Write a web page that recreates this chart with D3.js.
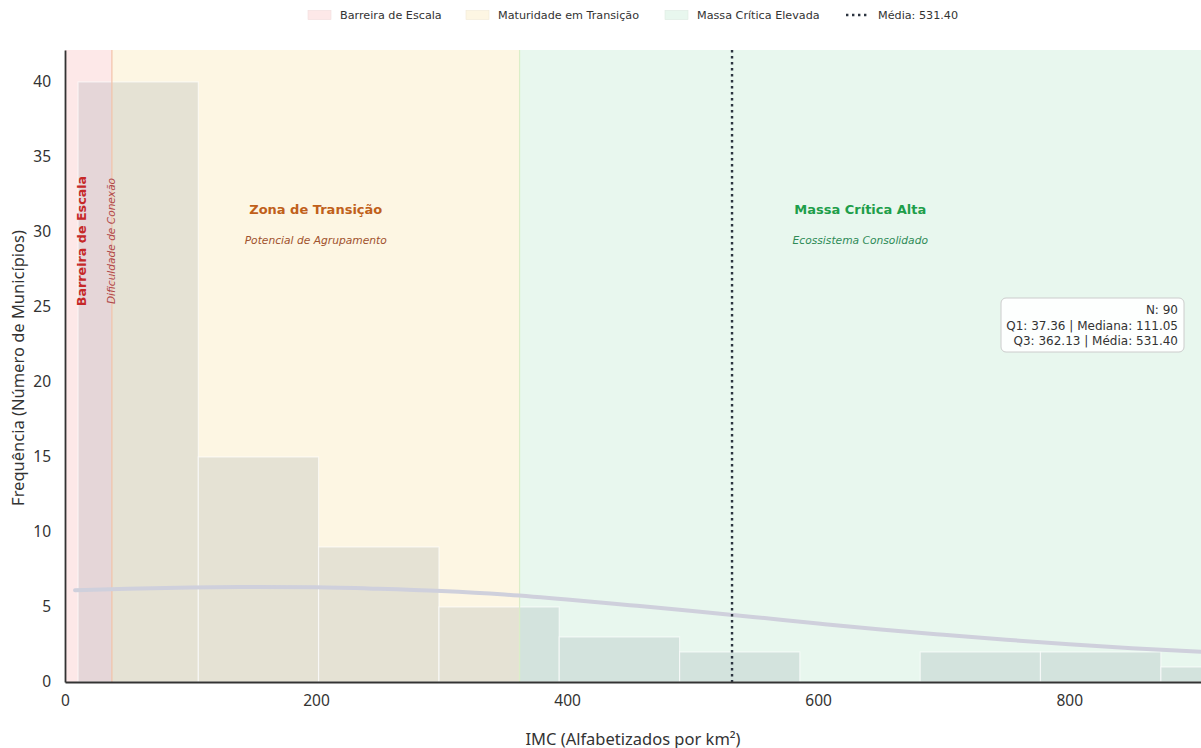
<!DOCTYPE html>
<html>
<head>
<meta charset="utf-8">
<script src="https://cdn.jsdelivr.net/npm/d3@7"></script>
<style>
  html, body { margin: 0; padding: 0; background: #ffffff; }
  svg { display: block; }
</style>
</head>
<body>
<svg id="chart" width="1201" height="748"></svg>
<script>
// ---- data ----
const binStarts = [10.4, 106.2, 202.0, 297.9, 393.7, 489.6, 585.4, 681.3, 777.1, 873.0];
const binEnds   = [106.2, 202.0, 297.9, 393.7, 489.6, 585.4, 681.3, 777.1, 873.0, 968.8];
const binCounts = [40, 15, 9, 5, 3, 2, 0, 2, 2, 1];

const kdeX = [8, 50, 100, 150, 200, 250, 300, 350, 400, 450, 500, 550, 600, 650, 700, 750, 800, 850, 905];
const kdeY = [6.12, 6.22, 6.30, 6.33, 6.31, 6.21, 6.06, 5.83, 5.50, 5.12, 4.73, 4.32, 3.90, 3.50, 3.15, 2.82, 2.52, 2.25, 2.02];

const stats = { n: 90, q1: 37.36, median: 111.05, q3: 362.13, mean: 531.40 };
const xTicks = [0, 200, 400, 600, 800];
const yTicks = [0, 5, 10, 15, 20, 25, 30, 35, 40];

const legendLabels = ["Barreira de Escala", "Maturidade em Transição", "Massa Crítica Elevada", "Média: 531.40"];
const zoneTitles = ["Barreira de Escala", "Zona de Transição", "Massa Crítica Alta"];
const zoneSubs = ["Dificuldade de Conexão", "Potencial de Agrupamento", "Ecossistema Consolidado"];

// ---- layout ----
const svg = d3.select("#chart");
const mLeft = 65, mRight = 1201, mTop = 50, mBottom = 682;
const xMax = 905;
const x = d3.scaleLinear().domain([0, xMax]).range([mLeft, mRight]);
const y = d3.scaleLinear().domain([0, 42.13]).range([mBottom, mTop]);

const font = "'Noto Sans', 'DejaVu Sans', sans-serif";
const dv = "'DejaVu Sans', sans-serif";

svg.append("clipPath").attr("id", "plotclip")
  .append("rect").attr("x", mLeft).attr("y", mTop).attr("width", mRight - mLeft).attr("height", mBottom - mTop);

const plot = svg.append("g").attr("clip-path", "url(#plotclip)");

// zones
const zones = [
  { x0: 0, x1: stats.q1, fill: "#fde8e8", edge: "#f3c2a8" },
  { x0: stats.q1, x1: stats.q3, fill: "#fdf6e3", edge: "#dbeec8" },
  { x0: stats.q3, x1: xMax, fill: "#e8f7ee", edge: null }
];
plot.selectAll("rect.zone").data(zones).enter().append("rect")
  .attr("class", "zone")
  .attr("x", d => x(d.x0)).attr("y", mTop)
  .attr("width", d => x(d.x1) - x(d.x0)).attr("height", mBottom - mTop)
  .attr("fill", d => d.fill);

// histogram bars
const bins = binStarts.map((s, i) => ({ x0: s, x1: binEnds[i], c: binCounts[i] })).filter(d => d.c > 0);
plot.selectAll("rect.bar").data(bins).enter().append("rect")
  .attr("class", "bar")
  .attr("x", d => x(d.x0)).attr("y", d => y(d.c))
  .attr("width", d => x(d.x1) - x(d.x0)).attr("height", d => y(0) - y(d.c))
  .attr("fill", "#6b7b8a").attr("fill-opacity", 0.16)
  .attr("stroke", "#ffffff").attr("stroke-width", 1.2).attr("stroke-opacity", 0.6);

// zone boundary lines
plot.selectAll("line.zedge").data(zones.filter(d => d.edge)).enter().append("line")
  .attr("x1", d => x(d.x1)).attr("x2", d => x(d.x1))
  .attr("y1", mTop).attr("y2", mBottom)
  .attr("stroke", d => d.edge).attr("stroke-width", 1.2);

// KDE line
const line = d3.line().x((d, i) => x(kdeX[i])).y(d => y(d)).curve(d3.curveMonotoneX);
plot.append("path").datum(kdeY)
  .attr("d", line)
  .attr("fill", "none").attr("stroke", "#cfd0dc").attr("stroke-width", 4)
  .attr("stroke-linecap", "round");

// mean line
plot.append("line")
  .attr("x1", x(stats.mean)).attr("x2", x(stats.mean))
  .attr("y1", mTop).attr("y2", mBottom)
  .attr("stroke", "#2c3440").attr("stroke-width", 2.4)
  .attr("stroke-dasharray", "2.4,3.6");

// zone annotations
svg.append("text")
  .attr("transform", `translate(${x(13.5)},${241}) rotate(-90)`)
  .attr("text-anchor", "middle").attr("dominant-baseline", "central")
  .attr("font-family", dv).attr("font-size", 12.7).attr("font-weight", "bold")
  .attr("fill", "#c62828").text(zoneTitles[0]);
svg.append("text")
  .attr("transform", `translate(${x(36.5)},${241}) rotate(-90)`)
  .attr("text-anchor", "middle").attr("dominant-baseline", "central")
  .attr("font-family", dv).attr("font-size", 10.6).attr("font-style", "italic")
  .attr("fill", "#b04a4a").text(zoneSubs[0]);

const midY = (stats.q1 + stats.q3) / 2;
const midG = (stats.q3 + xMax) / 2;
svg.append("text").attr("x", x(midY)).attr("y", 209)
  .attr("text-anchor", "middle").attr("dominant-baseline", "central")
  .attr("font-family", dv).attr("font-size", 13).attr("font-weight", "bold")
  .attr("fill", "#c0601a").text(zoneTitles[1]);
svg.append("text").attr("x", x(midY)).attr("y", 240)
  .attr("text-anchor", "middle").attr("dominant-baseline", "central")
  .attr("font-family", dv).attr("font-size", 10.7).attr("font-style", "italic")
  .attr("fill", "#a0522d").text(zoneSubs[1]);
svg.append("text").attr("x", x(midG)).attr("y", 209)
  .attr("text-anchor", "middle").attr("dominant-baseline", "central")
  .attr("font-family", dv).attr("font-size", 13).attr("font-weight", "bold")
  .attr("fill", "#1e9e4a").text(zoneTitles[2]);
svg.append("text").attr("x", x(midG)).attr("y", 240)
  .attr("text-anchor", "middle").attr("dominant-baseline", "central")
  .attr("font-family", dv).attr("font-size", 10.7).attr("font-style", "italic")
  .attr("fill", "#2e8b57").text(zoneSubs[2]);

// info box
const boxLines = [
  `N: ${stats.n}`,
  `Q1: ${stats.q1.toFixed(2)} | Mediana: ${stats.median.toFixed(2)}`,
  `Q3: ${stats.q3.toFixed(2)} | Média: ${stats.mean.toFixed(2)}`
];
svg.append("rect").attr("x", 1001).attr("y", 298).attr("width", 183).attr("height", 54)
  .attr("rx", 5).attr("fill", "#ffffff").attr("fill-opacity", 0.9)
  .attr("stroke", "#cccccc").attr("stroke-width", 1);
svg.selectAll("text.box").data(boxLines).enter().append("text")
  .attr("class", "box")
  .attr("x", 1178).attr("y", (d, i) => 310 + i * 15.7)
  .attr("text-anchor", "end").attr("dominant-baseline", "central")
  .attr("font-family", dv).attr("font-size", 12).attr("fill", "#333333")
  .text(d => d);

// axes
const xAxis = d3.axisBottom(x).tickValues(xTicks).tickSize(0).tickPadding(13);
const gx = svg.append("g").attr("transform", `translate(0,${mBottom})`).call(xAxis);
gx.select(".domain").attr("stroke", "#333333").attr("stroke-width", 1.8);
gx.selectAll("text").attr("font-family", font).attr("font-size", 15.5).attr("fill", "#333333");

const yAxis = d3.axisLeft(y).tickValues(yTicks).tickSize(0).tickPadding(14);
const gy = svg.append("g").attr("transform", `translate(${mLeft},0)`).call(yAxis);
gy.select(".domain").attr("stroke", "#333333").attr("stroke-width", 1.8);
gy.selectAll("text").attr("font-family", font).attr("font-size", 15.5).attr("fill", "#333333");

// axis labels
svg.append("text").attr("x", (mLeft + mRight) / 2).attr("y", 738)
  .attr("text-anchor", "middle").attr("dominant-baseline", "central")
  .attr("font-family", font).attr("font-size", 16.5).attr("fill", "#333333")
  .text("IMC (Alfabetizados por km²)");
svg.append("text")
  .attr("transform", `translate(17,${(mTop + mBottom) / 2 + 2}) rotate(-90)`)
  .attr("text-anchor", "middle").attr("dominant-baseline", "central")
  .attr("font-family", font).attr("font-size", 16.5).attr("fill", "#333333")
  .text("Frequência (Número de Municípios)");

// legend
const legendX = [308, 466, 665, 846];
const legendFills = ["#fde8e8", "#fdf6e3", "#e8f7ee", null];
const lg = svg.append("g");
legendLabels.forEach((lab, i) => {
  const g = lg.append("g").attr("transform", `translate(${legendX[i]},15)`);
  if (legendFills[i]) {
    g.append("rect").attr("x", 0).attr("y", -4.5).attr("width", 23).attr("height", 9)
      .attr("fill", legendFills[i]).attr("stroke", d3.color(legendFills[i]).darker(0.15)).attr("stroke-width", 0.6);
  } else {
    g.append("line").attr("x1", 0).attr("x2", 23).attr("y1", 0).attr("y2", 0)
      .attr("stroke", "#2c3440").attr("stroke-width", 2.4).attr("stroke-dasharray", "2.4,3.6");
  }
  g.append("text").attr("x", 32).attr("y", 0)
    .attr("dominant-baseline", "central")
    .attr("font-family", dv).attr("font-size", 11.2).attr("fill", "#333333").text(lab);
});
</script>
</body>
</html>
